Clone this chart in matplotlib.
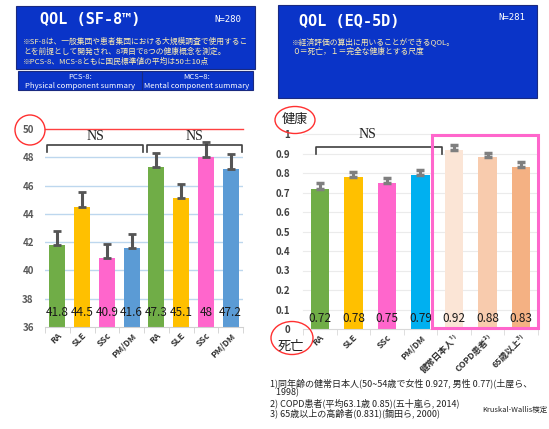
import numpy as np
import matplotlib
matplotlib.use("Agg")
import matplotlib.pyplot as plt
from matplotlib.patches import Rectangle, Ellipse

plt.rcParams['font.family'] = ['Noto Sans CJK JP', 'DejaVu Sans']

# SF-8 (left)
sf8_cats = ['RA', 'SLE', 'SSc', 'PM/DM', 'RA', 'SLE', 'SSc', 'PM/DM']
sf8_vals = [41.8, 44.5, 40.9, 41.6, 47.3, 45.1, 48, 47.2]
sf8_labels = ['41.8', '44.5', '40.9', '41.6', '47.3', '45.1', '48', '47.2']
sf8_err = [1.0, 1.05, 1.0, 1.0, 1.0, 1.0, 1.05, 1.0]
sf8_ticks = [36, 38, 40, 42, 44, 46, 48, 50]

# EQ-5D (right)
eq_cats = ['RA', 'SLE', 'SSc', 'PM/DM', '健常日本人¹⁾', 'COPD患者²⁾', '65歳以上³⁾']
eq_vals = [0.72, 0.78, 0.75, 0.79, 0.92, 0.88, 0.83]
eq_labels = ['0.72', '0.78', '0.75', '0.79', '0.92', '0.88', '0.83']
eq_err = [0.027, 0.027, 0.025, 0.027, 0.025, 0.025, 0.027]
eq_ticks = [0, 0.1, 0.2, 0.3, 0.4, 0.5, 0.6, 0.7, 0.8, 0.9, 1]

sf8_colors = ['#70AD47', '#FFC000', '#FF66CC', '#5B9BD5'] * 2
eq_colors = ['#70AD47', '#FFC000', '#FF66CC', '#00B0F0', '#FBE5D6', '#F8CBAD', '#F4B183']

W, H = 549, 429
fig = plt.figure(figsize=(W / 100, H / 100), dpi=100)


def fx(px):
    return px / W


def fy(py):
    return 1 - py / H


blue = '#0A34C8'
cream = '#FFEFB0'
jp = ['Noto Sans CJK JP', 'DejaVu Sans']

# ---- header boxes
fig.patches.append(Rectangle((fx(16), fy(69)), fx(239), 63 / H, transform=fig.transFigure,
                             facecolor=blue, edgecolor='#1a2a80', lw=0.8))
fig.patches.append(Rectangle((fx(18), fy(90)), fx(124), 19 / H, transform=fig.transFigure,
                             facecolor=blue, edgecolor='#1a2a80', lw=0.8))
fig.patches.append(Rectangle((fx(142), fy(90)), fx(111), 19 / H, transform=fig.transFigure,
                             facecolor=blue, edgecolor='#1a2a80', lw=0.8))
fig.patches.append(Rectangle((fx(278), fy(98)), fx(259), 93 / H, transform=fig.transFigure,
                             facecolor=blue, edgecolor='#1a2a80', lw=0.8))

fig.text(fx(90), fy(20), 'QOL (SF-8™)', color='white', fontsize=11, fontweight='bold',
         family=['DejaVu Sans Mono', 'DejaVu Sans'], ha='center', va='center')
fig.text(fx(228), fy(20), 'N=280', color='white', fontsize=6.5,
         family=['DejaVu Sans Mono'], ha='center', va='center')
fig.text(fx(23), fy(42), '※SF-8は、一般集団や患者集団における大規模調査で使用するこ',
         color=cream, fontsize=5.6, family=jp, va='center')
fig.text(fx(23), fy(52), 'とを前提として開発され、8項目で8つの健康概念を測定。',
         color=cream, fontsize=5.6, family=jp, va='center')
fig.text(fx(23), fy(62), '※PCS-8、MCS-8ともに国民標準値の平均は50±10点',
         color=cream, fontsize=5.6, family=jp, va='center')
fig.text(fx(80), fy(77), 'PCS-8:', color='white', fontsize=5.6, family=jp, ha='center', va='center')
fig.text(fx(80), fy(86), 'Physical component summary', color='white', fontsize=5.6,
         family=jp, ha='center', va='center')
fig.text(fx(197), fy(77), 'MCS−8:', color='white', fontsize=5.6, family=jp, ha='center', va='center')
fig.text(fx(197), fy(86), 'Mental component summary', color='white', fontsize=5.6,
         family=jp, ha='center', va='center')

fig.text(fx(349), fy(22), 'QOL (EQ-5D)', color='white', fontsize=11, fontweight='bold',
         family=['DejaVu Sans Mono', 'DejaVu Sans'], ha='center', va='center')
fig.text(fx(512), fy(18), 'N=281', color='white', fontsize=6.5,
         family=['DejaVu Sans Mono'], ha='center', va='center')
fig.text(fx(292), fy(42), '※経済評価の算出に用いることができるQOL。',
         color=cream, fontsize=5.6, family=jp, va='center')
fig.text(fx(292), fy(52), '０＝死亡，１＝完全な健康とする尺度',
         color=cream, fontsize=5.6, family=jp, va='center')

# ---- left chart
ax1 = fig.add_axes([fx(45), fy(327), fx(198), 198 / H])
x1 = np.arange(len(sf8_vals))
ax1.bar(x1, sf8_vals, width=0.65, color=sf8_colors, zorder=2)
ax1.errorbar(x1, sf8_vals, yerr=[np.zeros(len(sf8_err)), sf8_err], fmt='none',
             ecolor='#555555', elinewidth=2.2, capsize=2.6, capthick=2, zorder=3)
ax1.set_ylim(36, 50)
ax1.set_xlim(-0.5, len(sf8_vals) - 0.5)
ax1.set_yticks(sf8_ticks)
for t in sf8_ticks[1:-1]:
    ax1.axhline(t, color='#BDD7EE', lw=1, zorder=0)
ax1.axhline(50, color='#FF4040', lw=1, zorder=1, clip_on=False)
for s in ['top', 'right', 'left']:
    ax1.spines[s].set_visible(False)
ax1.spines['bottom'].set_color('#D0D0D0')
ax1.tick_params(axis='y', length=0, labelsize=7, labelcolor='#595959', pad=8)
ax1.set_xticks(x1)
ax1.set_xticklabels(sf8_cats, rotation=45, ha='right', rotation_mode='anchor',
                    fontsize=6.3, fontweight='bold', color='#333333')
ax1.tick_params(axis='x', length=0, pad=3)
ax1.set_xticks(np.arange(-0.5, len(sf8_vals)), minor=True)
ax1.tick_params(axis='x', which='minor', length=4, color='#D0D0D0')
for lab in ax1.get_yticklabels():
    lab.set_fontweight('bold')
for xi, lab in zip(x1, sf8_labels):
    ax1.text(xi, 37.0, lab, ha='center', va='center', fontsize=8.5, color='#1a1a1a', zorder=4)

# NS brackets
for xa, xb in [(-0.4, 3.45), (3.62, 7.45)]:
    ax1.plot([xa, xa, xb, xb], [48.4, 48.87, 48.87, 48.4], color='#404040', lw=1.2,
             clip_on=False, zorder=4)
    ax1.text((xa + xb) / 2, 49.5, 'NS', ha='center', va='center', fontsize=10,
             family=['Liberation Serif'], color='#222222', clip_on=False)

# ---- right chart
ax2 = fig.add_axes([fx(303), fy(329), fx(235), 195 / H])
x2 = np.arange(len(eq_vals))
ax2.bar(x2, eq_vals, width=0.55, color=eq_colors, zorder=2)
ax2.errorbar(x2, eq_vals, yerr=[np.zeros(len(eq_err)), eq_err], fmt='none',
             ecolor='#7F7F7F', elinewidth=2.2, capsize=2.8, capthick=2.5, zorder=3)
ax2.set_ylim(0, 1)
ax2.set_xlim(-0.5, len(eq_vals) - 0.5)
ax2.set_yticks(eq_ticks)
ax2.set_yticklabels(['0', '0.1', '0.2', '0.3', '0.4', '0.5', '0.6', '0.7', '0.8', '0.9', '1'])
for t in eq_ticks[1:]:
    ax2.axhline(t, color='#EBEBEB', lw=0.8, zorder=0, clip_on=False)
for s in ['top', 'right', 'left']:
    ax2.spines[s].set_visible(False)
ax2.spines['bottom'].set_color('#D9D9D9')
ax2.tick_params(axis='y', length=0, labelsize=7, labelcolor='#404040', pad=9)
for lab in ax2.get_yticklabels():
    lab.set_fontweight('bold')
ax2.set_xticks(x2)
ax2.set_xticklabels(eq_cats, rotation=45, ha='right', rotation_mode='anchor',
                    fontsize=6.3, fontweight='bold', color='#333333')
ax2.tick_params(axis='x', length=0, pad=3)
ax2.set_xticks(np.arange(-0.5, len(eq_vals)), minor=True)
ax2.tick_params(axis='x', which='minor', length=4, color='#D9D9D9')
for xi, lab in zip(x2, eq_labels):
    ax2.text(xi, 0.056, lab, ha='center', va='center', fontsize=8.5, color='#1a1a1a', zorder=4)

ax2.plot([-0.1, -0.1, 3.65, 3.65], [0.90, 0.933, 0.933, 0.90], color='#404040', lw=1.2,
         clip_on=False, zorder=4)
ax2.text(1.42, 0.995, 'NS', ha='center', va='center', fontsize=10,
         family=['Liberation Serif'], color='#222222', clip_on=False)

# pink box
fig.patches.append(Rectangle((fx(432), fy(328)), fx(106), 193 / H, transform=fig.transFigure,
                             fill=False, edgecolor='#FF66CC', lw=2.2, zorder=5))

# red circles and labels
for cx, cy, w, h in [(30, 130, 30, 30), (295, 120, 40, 27), (292, 338, 42, 33)]:
    fig.patches.append(Ellipse((fx(cx), fy(cy)), fx(w), h / H, transform=fig.transFigure,
                               fill=False, edgecolor='#FF3030', lw=1))
fig.text(fx(295), fy(119), '健康', fontsize=9.5, family=jp, ha='center', va='center', color='#222222')
fig.text(fx(291), fy(346), '死亡', fontsize=9.5, family=jp, ha='center', va='center', color='#222222')

# footnotes
notes = ['1)同年齢の健常日本人(50~54歳で女性 0.927, 男性 0.77)(土屋ら、',
         '   1998)',
         '2) COPD患者(平均63.1歳 0.85)(五十嵐ら, 2014)',
         '3) 65歳以上の高齢者(0.831)(鋼田ら, 2000)']
for i, n in enumerate(notes):
    fig.text(fx(270), fy(383 + 10 * i), n, fontsize=6.5, family=jp, va='center', color='#222222')
fig.text(fx(482), fy(410), 'Kruskal-Wallis検定', fontsize=5.4, family=jp, va='center', color='#222222')

fig.savefig('out.png', dpi=100)
